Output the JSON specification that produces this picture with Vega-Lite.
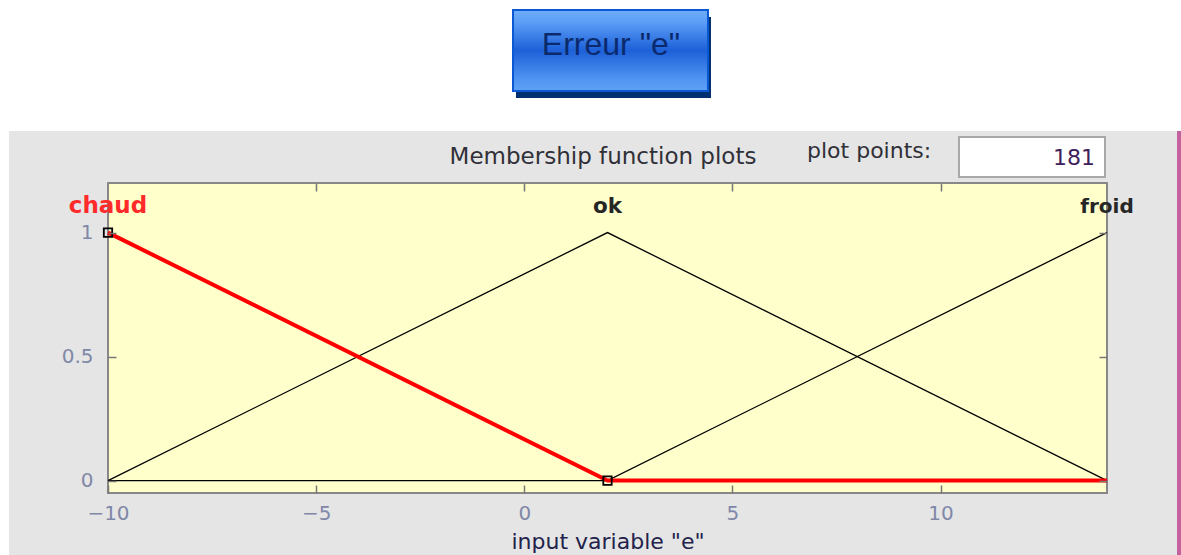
{
  "$schema": "https://vega.github.io/schema/vega-lite/v6.json",
  "autosize": {"type": "none"},
  "width": 999,
  "height": 310,
  "padding": {"left": 108, "top": 183, "right": 74, "bottom": 62},
  "background": "#ffffff",
  "view": {"stroke": null},
  "config": {"font": "DejaVu Sans"},
  "datasets": {
    "mf": [
      {"mf": "chaud", "x": -10, "y": 1},
      {"mf": "chaud", "x": 2, "y": 0},
      {"mf": "chaud", "x": 14, "y": 0},
      {"mf": "ok", "x": -10, "y": 0},
      {"mf": "ok", "x": 2, "y": 1},
      {"mf": "ok", "x": 14, "y": 0},
      {"mf": "froid", "x": -10, "y": 0},
      {"mf": "froid", "x": 2, "y": 0},
      {"mf": "froid", "x": 14, "y": 1}
    ],
    "labels": [
      {"mf": "chaud", "peak": -10},
      {"mf": "ok", "peak": 2},
      {"mf": "froid", "peak": 14}
    ],
    "one": [{}]
  },
  "resolve": {"axis": {"x": "independent", "y": "independent"}},
  "layer": [
    {
      "data": {"name": "one"},
      "mark": {"type": "rect", "fill": "#e5e5e5", "stroke": null},
      "encoding": {
        "x": {"datum": -12.378, "type": "quantitative", "scale": {"domain": [-10, 14], "nice": false, "zero": false}, "axis": null},
        "x2": {"datum": 15.682},
        "y": {"datum": 1.41, "type": "quantitative", "scale": {"domain": [-0.05, 1.2], "nice": false, "zero": false}, "axis": null},
        "y2": {"datum": -0.3}
      }
    },
    {
      "data": {"name": "one"},
      "mark": {"type": "rect", "fill": "#c462a0", "stroke": null},
      "encoding": {
        "x": {"datum": 15.682, "type": "quantitative", "axis": null},
        "x2": {"datum": 15.9},
        "y": {"datum": 1.41, "type": "quantitative", "axis": null},
        "y2": {"datum": -0.3}
      }
    },
    {
      "data": {"name": "one"},
      "mark": {"type": "rect", "fill": "#003070", "stroke": null},
      "encoding": {
        "x": {"datum": -0.198, "type": "quantitative", "axis": null},
        "x2": {"datum": 4.486},
        "y": {"datum": 1.869, "type": "quantitative", "axis": null},
        "y2": {"datum": 1.543}
      }
    },
    {
      "data": {"name": "one"},
      "mark": {
        "type": "rect",
        "stroke": "#0a58d4",
        "strokeWidth": 2,
        "fill": {
          "gradient": "linear", "x1": 0, "y1": 0, "x2": 0, "y2": 1,
          "stops": [
            {"offset": 0, "color": "#6eaefa"},
            {"offset": 0.15, "color": "#5c9ef6"},
            {"offset": 0.5, "color": "#1d60d8"},
            {"offset": 0.85, "color": "#4f94f2"},
            {"offset": 1, "color": "#5fa2f6"}
          ]
        }
      },
      "encoding": {
        "x": {"datum": -0.27, "type": "quantitative", "axis": null},
        "x2": {"datum": 4.414},
        "y": {"datum": 1.898, "type": "quantitative", "axis": null},
        "y2": {"datum": 1.571}
      }
    },
    {
      "data": {"name": "one"},
      "mark": {"type": "text", "text": "Erreur \"e\"", "font": "Liberation Sans", "fontSize": 32, "color": "#0b2a6e", "align": "center", "baseline": "alphabetic"},
      "encoding": {
        "x": {"datum": 2.084, "type": "quantitative", "axis": null},
        "y": {"datum": 1.716, "type": "quantitative", "axis": null}
      }
    },
    {
      "data": {"name": "one"},
      "mark": {"type": "text", "text": "Membership function plots", "fontSize": 23, "color": "#303038", "align": "center", "baseline": "alphabetic"},
      "encoding": {
        "x": {"datum": 1.892, "type": "quantitative", "axis": null},
        "y": {"datum": 1.277, "type": "quantitative", "axis": null}
      }
    },
    {
      "data": {"name": "one"},
      "mark": {"type": "text", "text": "plot points:", "fontSize": 22, "color": "#303038", "align": "left", "baseline": "alphabetic"},
      "encoding": {
        "x": {"datum": 6.793, "type": "quantitative", "axis": null},
        "y": {"datum": 1.301, "type": "quantitative", "axis": null}
      }
    },
    {
      "data": {"name": "one"},
      "mark": {"type": "rect", "fill": "#ffffff", "stroke": "#a8a8a8", "strokeWidth": 2},
      "encoding": {
        "x": {"datum": 10.444, "type": "quantitative", "axis": null},
        "x2": {"datum": 13.952},
        "y": {"datum": 1.3855, "type": "quantitative", "axis": null},
        "y2": {"datum": 1.2242}
      }
    },
    {
      "data": {"name": "one"},
      "mark": {"type": "text", "text": "181", "fontSize": 22, "color": "#40205a", "align": "right", "baseline": "alphabetic"},
      "encoding": {
        "x": {"datum": 13.712, "type": "quantitative", "axis": null},
        "y": {"datum": 1.2726, "type": "quantitative", "axis": null}
      }
    },
    {
      "data": {"name": "one"},
      "mark": {"type": "rect", "fill": "#ffffcc", "stroke": "#888888", "strokeWidth": 2},
      "encoding": {
        "x": {"datum": -10, "type": "quantitative", "axis": {"orient": "top", "values": [-5, 0, 5, 10], "labels": false, "domain": false, "grid": false, "ticks": true, "offset": -8, "tickSize": 8, "tickColor": "#777777", "tickWidth": 1.5, "title": null, "zindex": 2}},
        "x2": {"datum": 14},
        "y": {"datum": -0.05, "type": "quantitative", "axis": {"orient": "right", "values": [0, 0.5, 1], "labels": false, "domain": false, "grid": false, "ticks": true, "offset": -8, "tickSize": 8, "tickColor": "#777777", "tickWidth": 1.5, "title": null, "zindex": 2}},
        "y2": {"datum": 1.2}
      }
    },
    {
      "data": {"name": "mf"},
      "transform": [{"filter": "datum.mf !== 'chaud'"}],
      "mark": {"type": "line", "color": "#000000", "strokeWidth": 1.3},
      "encoding": {
        "x": {"field": "x", "type": "quantitative", "axis": {"orient": "bottom", "values": [-10, -5, 0, 5, 10], "domain": false, "grid": false, "offset": -8, "tickSize": 8, "tickColor": "#777777", "tickWidth": 1.5, "labelPadding": 10, "labelFlush": false, "labelFontSize": 20, "labelColor": "#8088a8", "title": "input variable \"e\"", "titleFontSize": 22, "titleFontWeight": "normal", "titleColor": "#22224a", "titlePadding": 8, "zindex": 2}},
        "y": {"field": "y", "type": "quantitative", "axis": {"orient": "left", "values": [0, 0.5, 1], "format": "~g", "domain": false, "grid": false, "offset": -8, "tickSize": 8, "tickColor": "#777777", "tickWidth": 1.5, "labelPadding": 15, "labelFlush": false, "labelFontSize": 20, "labelColor": "#8088a8", "title": null, "zindex": 2}},
        "detail": {"field": "mf"}
      }
    },
    {
      "data": {"name": "mf"},
      "transform": [{"filter": "datum.mf === 'chaud'"}],
      "mark": {"type": "line", "color": "#ff0000", "strokeWidth": 4},
      "encoding": {
        "x": {"field": "x", "type": "quantitative", "axis": null},
        "y": {"field": "y", "type": "quantitative", "axis": null}
      }
    },
    {
      "data": {"name": "mf"},
      "transform": [{"filter": "datum.mf === 'chaud' && datum.x <= 2"}],
      "mark": {"type": "point", "shape": "square", "filled": false, "stroke": "#000000", "strokeWidth": 1.8, "size": 70, "opacity": 1},
      "encoding": {
        "x": {"field": "x", "type": "quantitative", "axis": null},
        "y": {"field": "y", "type": "quantitative", "axis": null}
      }
    },
    {
      "data": {"name": "labels"},
      "mark": {"type": "text", "fontSize": 20, "fontWeight": "bold", "align": "center", "baseline": "alphabetic"},
      "encoding": {
        "x": {"field": "peak", "type": "quantitative", "axis": null},
        "y": {"datum": 1.079, "type": "quantitative", "axis": null},
        "text": {"field": "mf"},
        "color": {"field": "mf", "type": "nominal", "scale": {"domain": ["chaud", "ok", "froid"], "range": ["#ff2a2a", "#262626", "#262626"]}, "legend": null},
        "size": {"field": "mf", "type": "nominal", "scale": {"domain": ["chaud", "ok", "froid"], "range": [23, 20, 20]}, "legend": null}
      }
    }
  ]
}
